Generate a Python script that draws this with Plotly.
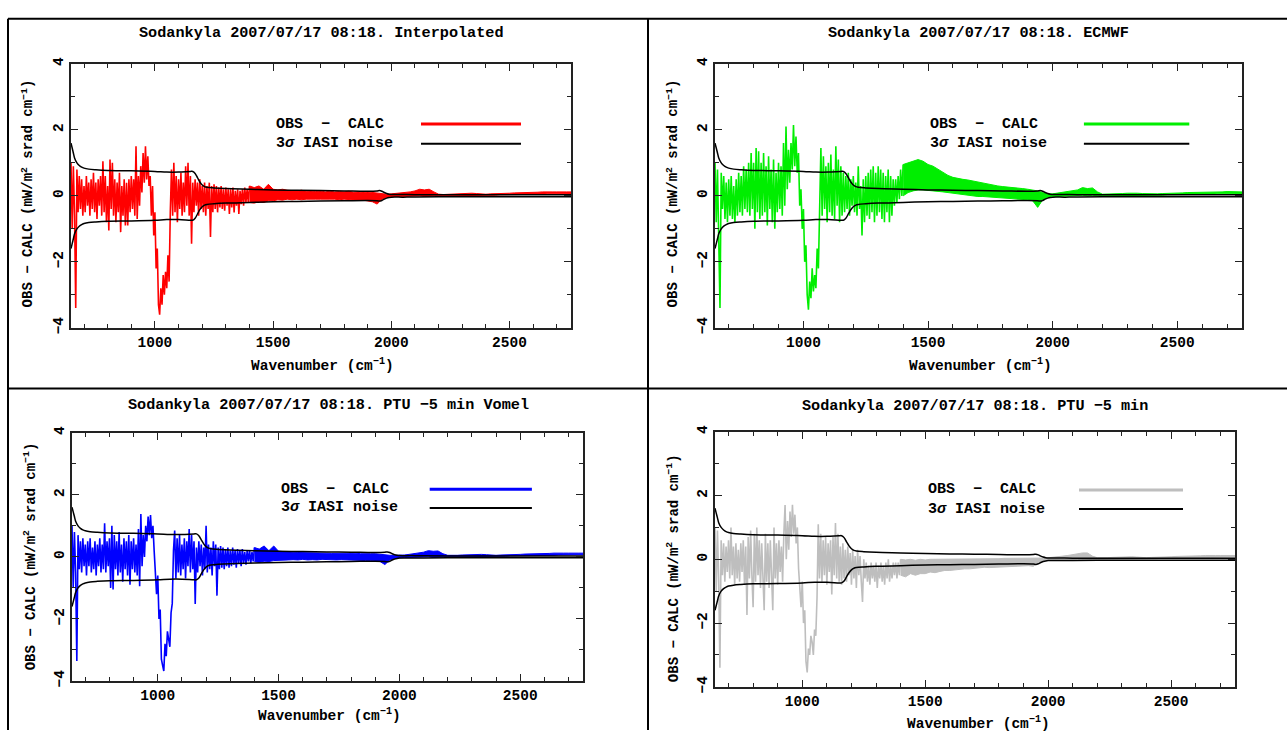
import plotly.graph_objects as go

# ---------------- data ----------------
# fine part: individual channel values (alternating peaks / troughs)
WN_FINE = list(range(645, 1400, 5))      # 645 ... 1395  (151 points)
# smooth part: upper / lower edge of the dense residual band
WN_BAND = list(range(1400, 2761, 20))    # 1400 ... 2760 (69 points)

INTERP_FINE = [
    1.0, -1.0, 0.9, -0.6, -3.4, 0.8, -0.5, 0.6, -0.4, 0.5,
    -0.6, 0.3, -0.5, 0.6, -0.3, 0.4, -0.6, 0.5, -0.4, 0.7,
    -0.5, 0.4, -0.7, 0.5, -0.3, 0.6, -0.6, 1.05, -0.5, 0.6,
    -0.8, 0.3, -1.05, 1.1, -0.4, 1.0, -0.6, 0.5, -0.8, 0.4,
    -0.5, 0.7, -1.1, 0.3, -0.6, 0.5, -0.9, 0.4, -0.9, 0.5,
    -0.5, 0.6, -0.4, 0.5, -0.6, 1.5, -0.7, 0.6, -0.3, 0.9,
    0.1, 1.3, 0.4, 1.5, 0.5, 1.2, 0.3, 0.6, -0.6, 0.3,
    -1.2, -0.5, -2.2, -1.6, -3.3, -3.6, -2.8, -3.3, -2.4, -3.0,
    -2.3, -2.8, -1.8, -2.6, -0.5, 0.8, -0.6, 1.0, -0.5, 0.6,
    -0.8, 0.5, -0.4, 0.7, -0.6, 0.4, -0.5, 0.9, -0.3, 1.0,
    -0.6, 0.6, -1.45, 0.4, -0.5, 0.5, -0.3, 0.4, -0.6, 0.5,
    -0.4, 0.3, -0.5, 0.4, -0.6, 0.3, -0.4, 0.4, -1.25, 0.3,
    -0.5, 0.35, -0.4, 0.3, -0.5, 0.25, -0.35, 0.3, -0.4, 0.2,
    -0.45, 0.25, -0.3, 0.2, -0.55, 0.2, -0.35, 0.25, -0.5, 0.15,
    -0.3, 0.2, -0.55, 0.15, -0.25, 0.2, -0.3, 0.25, -0.2, 0.2,
    -0.2,
]
INTERP_BAND_HI = [
    0.3, 0.25, 0.3, 0.2, 0.35, 0.2, 0.18, 0.2, 0.17, 0.15,
    0.15, 0.17, 0.14, 0.15, 0.13, 0.15, 0.12, 0.14, 0.12, 0.13,
    0.12, 0.14, 0.11, 0.12, 0.1, 0.12, 0.1, 0.08, 0.06, 0.05,
    0.06, 0.07, 0.08, 0.1, 0.12, 0.15, 0.2, 0.18, 0.2, 0.12,
    0.05, 0.04, 0.05, 0.06, 0.07, 0.08, 0.09, 0.08, 0.07, 0.05,
    0.05, 0.06, 0.06, 0.07, 0.08, 0.08, 0.09, 0.09, 0.1, 0.1,
    0.11, 0.11, 0.12, 0.11, 0.12, 0.12, 0.13, 0.12, 0.12,
]
INTERP_BAND_LO = [
    -0.2, -0.22, -0.18, -0.2, -0.15, -0.15, -0.12, -0.13, -0.1, -0.12,
    -0.1, -0.12, -0.1, -0.11, -0.1, -0.1, -0.09, -0.1, -0.1, -0.12,
    -0.1, -0.12, -0.12, -0.14, -0.13, -0.16, -0.18, -0.25, -0.1, -0.05,
    -0.03, -0.02, -0.02, -0.01, -0.01, 0.0, 0.0, -0.02, 0.0, 0.0,
    0.0, 0.0, 0.01, 0.01, 0.01, 0.02, 0.02, 0.02, 0.02, 0.02,
    0.02, 0.02, 0.02, 0.03, 0.03, 0.03, 0.03, 0.04, 0.04, 0.04,
    0.05, 0.05, 0.05, 0.06, 0.06, 0.06, 0.07, 0.07, 0.07,
]

ECMWF_FINE = [
    1.0, -0.8, 0.8, -1.0, -3.4, 0.7, -0.4, 0.6, -0.7, 0.4,
    -0.8, 0.5, -0.6, 0.6, -0.7, 0.3, -0.8, 0.5, -0.6, 0.7,
    -0.5, 0.6, -0.6, 0.9, -0.4, 0.8, -0.5, 1.0, -0.6, 1.3,
    -0.4, 1.0, -1.0, 1.45, -0.5, 1.35, -0.7, 1.0, -0.6, 1.3,
    -0.5, 0.9, -0.9, 1.2, -0.4, 0.8, -0.8, 1.1, -1.0, 0.7,
    -0.5, 1.0, -0.4, 0.9, -0.6, 1.6, -0.3, 2.1, 0.2, 1.4,
    0.4, 1.6, 0.8, 2.15, 0.9, 1.8, 0.7, 1.3, -0.3, 0.2,
    -1.0, -0.4, -2.0, -1.5, -3.0, -3.45, -2.6, -3.1, -2.2, -2.9,
    -2.4, -2.8, -1.6, -2.2, 0.2, 1.45, -0.6, 1.2, -0.4, 0.9,
    -0.8, 1.0, -0.5, 1.25, -0.6, 0.8, -0.7, 1.5, -0.3, 1.1,
    -0.8, 0.9, -0.6, 0.7, -0.5, 0.6, -0.4, 0.7, -0.6, 0.5,
    -0.3, 0.6, -0.5, 0.4, -0.6, 0.9, -0.4, 0.3, -1.2, 0.5,
    -0.8, 0.6, -0.6, 0.7, -0.7, 0.8, -0.5, 0.9, -0.8, 0.7,
    -0.6, 0.9, -0.5, 0.8, -0.7, 0.7, -0.8, 0.6, -0.5, 0.8,
    -0.8, 0.6, -0.6, 0.5, -0.3, 0.5, -0.2, 0.6, -0.1, 0.8,
    0.0,
]
ECMWF_BAND_HI = [
    0.95, 1.0, 1.05, 1.1, 1.05, 0.95, 0.9, 0.8, 0.7, 0.62,
    0.56, 0.52, 0.5, 0.48, 0.45, 0.4, 0.38, 0.35, 0.33, 0.3,
    0.28, 0.27, 0.25, 0.24, 0.22, 0.2, 0.18, 0.15, 0.1, 0.06,
    0.06, 0.08, 0.1, 0.12, 0.15, 0.18, 0.25, 0.22, 0.24, 0.12,
    0.05, 0.05, 0.06, 0.06, 0.07, 0.08, 0.09, 0.08, 0.07, 0.06,
    0.06, 0.06, 0.07, 0.07, 0.08, 0.08, 0.09, 0.1, 0.1, 0.1,
    0.11, 0.11, 0.12, 0.12, 0.12, 0.13, 0.13, 0.13, 0.12,
]
ECMWF_BAND_LO = [
    0.0, 0.1, 0.15, 0.18, 0.18, 0.17, 0.16, 0.15, 0.12, 0.1,
    0.08, 0.05, 0.03, 0.0, 0.0, -0.02, -0.02, -0.03, -0.04, -0.05,
    -0.05, -0.06, -0.08, -0.1, -0.1, -0.12, -0.15, -0.35, -0.12, -0.05,
    -0.03, -0.02, -0.01, 0.0, 0.0, 0.01, 0.02, 0.0, 0.02, 0.0,
    0.0, 0.0, 0.01, 0.01, 0.01, 0.02, 0.02, 0.02, 0.02, 0.02,
    0.02, 0.02, 0.02, 0.03, 0.03, 0.03, 0.03, 0.04, 0.04, 0.04,
    0.05, 0.05, 0.05, 0.06, 0.06, 0.06, 0.07, 0.07, 0.07,
]

VOMEL_FINE = [
    1.0, -1.0, 0.8, -0.5, -3.36, 0.7, -0.4, 0.5, -0.5, 0.6,
    -0.3, 0.4, -0.6, 0.5, -0.3, 0.6, -0.5, 0.3, -0.4, 0.5,
    -0.6, 0.4, -0.3, 0.6, -0.5, 0.4, -0.4, 1.08, -0.5, 0.5,
    -0.3, 0.6, -1.0, 1.0, -1.05, 0.7, -0.4, 0.5, -0.6, 0.8,
    -0.5, 0.4, -0.8, 0.6, -0.4, 0.5, -0.6, 0.7, -0.9, 0.5,
    -0.4, 0.6, -0.5, 0.4, -0.6, 0.9, -0.95, 1.38, -0.3, 0.7,
    0.0, 1.0, 0.5, 1.3, 0.7, 1.35, 0.6, 1.0, 0.2, -0.5,
    -1.2, -0.6, -2.0, -1.7, -3.3, -3.5, -3.68, -2.8, -3.2, -2.4,
    -2.6, -2.9, -1.8, -1.5, 0.2, 0.85, -0.7, 0.6, -0.5, 0.7,
    -0.6, 0.4, -0.4, 0.6, -0.7, 0.5, -0.3, 0.9, -0.5, 0.7,
    -0.4, 0.5, -1.52, 0.3, -0.5, 0.5, -0.3, 0.4, -0.6, 0.3,
    -0.4, 1.0, -0.5, 0.4, -0.4, 0.3, -0.6, 0.5, -0.3, 0.4,
    -1.25, 0.3, -0.4, 0.35, -0.35, 0.3, -0.4, 0.25, -0.3, 0.3,
    -0.35, 0.2, -0.3, 0.3, -0.25, 0.2, -0.35, 0.25, -0.2, 0.2,
    -0.3, 0.25, -0.2, 0.15, -0.25, 0.2, -0.15, 0.2, -0.2, 0.15,
    -0.15,
]
VOMEL_BAND_HI = [
    0.3, 0.25, 0.35, 0.2, 0.35, 0.18, 0.17, 0.15, 0.15, 0.14,
    0.14, 0.13, 0.13, 0.12, 0.12, 0.12, 0.11, 0.12, 0.11, 0.12,
    0.11, 0.12, 0.1, 0.11, 0.1, 0.1, 0.08, 0.06, 0.05, 0.05,
    0.05, 0.06, 0.08, 0.1, 0.12, 0.15, 0.2, 0.18, 0.19, 0.1,
    0.05, 0.04, 0.05, 0.06, 0.07, 0.08, 0.09, 0.08, 0.07, 0.05,
    0.05, 0.06, 0.06, 0.07, 0.08, 0.08, 0.09, 0.09, 0.1, 0.1,
    0.11, 0.11, 0.12, 0.11, 0.12, 0.12, 0.13, 0.12, 0.12,
]
VOMEL_BAND_LO = [
    -0.15, -0.18, -0.14, -0.15, -0.12, -0.12, -0.1, -0.1, -0.09, -0.1,
    -0.08, -0.1, -0.09, -0.1, -0.08, -0.09, -0.08, -0.1, -0.09, -0.1,
    -0.1, -0.1, -0.11, -0.12, -0.12, -0.13, -0.15, -0.25, -0.1, -0.05,
    -0.03, -0.02, -0.02, -0.01, -0.01, 0.0, 0.0, -0.02, 0.0, 0.0,
    0.0, 0.0, 0.01, 0.01, 0.01, 0.02, 0.02, 0.02, 0.02, 0.02,
    0.02, 0.02, 0.02, 0.03, 0.03, 0.03, 0.03, 0.04, 0.04, 0.04,
    0.05, 0.05, 0.05, 0.06, 0.06, 0.06, 0.07, 0.07, 0.07,
]

PTU5_FINE = [
    1.0, -1.0, 0.9, -0.6, -3.4, 0.6, -0.5, 0.5, -0.7, 0.4,
    -0.4, 0.6, -0.6, 1.0, -0.5, 0.4, -0.8, 0.5, -0.6, 0.3,
    -0.7, 0.5, -0.4, 0.6, -0.8, 0.4, -1.75, 0.7, -0.6, 0.9,
    -0.5, -1.5, 0.8, -0.7, 1.0, -0.5, 0.6, -0.9, 0.5, -0.6,
    -1.6, 0.8, -0.7, 0.5, -0.9, 0.6, -0.5, -1.6, 1.0, -0.6,
    0.5, -0.8, 0.6, -0.4, 0.4, -0.7, 0.8, 1.7, 0.0, 1.2,
    0.3, 1.5, 0.7, 1.71, 0.8, 1.4, 0.5, 1.0, -0.3, -0.8,
    -1.5, -0.7, -2.0, -1.6, -3.2, -3.55, -2.8, -3.0, -2.4, -2.6,
    -3.0, -2.2, -2.4, -1.2, 1.1, -0.6, 0.8, -0.7, 0.6, -0.5,
    0.7, -0.8, 0.5, -0.4, 0.6, -1.1, 0.7, -0.5, 1.14, -0.6,
    0.8, -0.7, 0.4, -0.8, 0.5, -0.6, 0.3, -0.7, 0.4, -0.5,
    0.2, -0.8, 0.3, -0.6, 0.1, -0.9, 0.3, -0.5, 0.1, -0.7,
    -1.34, 0.0, -0.6, -0.1, -0.7, -0.2, -0.8, -0.1, -0.6, -0.2,
    -0.7, -0.1, -0.9, -0.2, -0.6, -0.1, -0.7, -0.2, -0.8, -0.1,
    -0.6, 0.0, -0.7, -0.2, -0.6, -0.1, -0.5, -0.1, -0.6, -0.1,
    -0.5,
]
PTU5_BAND_HI = [
    0.0, -0.02, 0.0, -0.03, 0.0, -0.02, 0.0, 0.0, 0.02, 0.0,
    0.0, 0.02, 0.0, 0.02, 0.0, 0.02, 0.02, 0.0, 0.02, 0.02,
    0.02, 0.03, 0.03, 0.02, 0.03, 0.02, 0.03, 0.02, 0.03, 0.04,
    0.05, 0.06, 0.08, 0.1, 0.12, 0.15, 0.18, 0.2, 0.2, 0.1,
    0.05, 0.04, 0.05, 0.06, 0.07, 0.08, 0.09, 0.08, 0.07, 0.05,
    0.05, 0.06, 0.06, 0.07, 0.08, 0.08, 0.09, 0.09, 0.1, 0.1,
    0.11, 0.11, 0.12, 0.11, 0.12, 0.12, 0.13, 0.12, 0.12,
]
PTU5_BAND_LO = [
    -0.5, -0.55, -0.45, -0.5, -0.45, -0.45, -0.4, -0.42, -0.38, -0.35,
    -0.35, -0.33, -0.32, -0.3, -0.3, -0.28, -0.28, -0.25, -0.26, -0.25,
    -0.25, -0.24, -0.22, -0.22, -0.2, -0.2, -0.2, -0.22, -0.1, -0.05,
    -0.03, -0.02, -0.02, -0.01, -0.01, 0.0, 0.0, -0.02, 0.0, 0.0,
    0.0, 0.0, 0.01, 0.01, 0.01, 0.02, 0.02, 0.02, 0.02, 0.02,
    0.02, 0.02, 0.02, 0.03, 0.03, 0.03, 0.03, 0.04, 0.04, 0.04,
    0.05, 0.05, 0.05, 0.06, 0.06, 0.06, 0.07, 0.07, 0.07,
]

NOISE_WN = [645, 650, 655, 660, 670, 680, 690, 700, 720, 750, 800, 900,
            1000, 1050, 1100, 1150, 1160, 1170, 1180, 1190, 1200, 1210,
            1220, 1250, 1300, 1400, 1500, 1600, 1700, 1800, 1900, 1940,
            1950, 1960, 1970, 1980, 1990, 2000, 2050, 2100, 2200, 2400,
            2600, 2760]
NOISE_3SIGMA = [1.6, 1.45, 1.3, 1.15, 1.0, 0.92, 0.87, 0.84, 0.81, 0.79,
                0.77, 0.76, 0.74, 0.72, 0.72, 0.74, 0.74, 0.68, 0.55, 0.42,
                0.33, 0.28, 0.26, 0.24, 0.22, 0.2, 0.18, 0.17, 0.16, 0.15,
                0.14, 0.15, 0.16, 0.14, 0.1, 0.07, 0.05, 0.04, 0.04, 0.035,
                0.03, 0.03, 0.03, 0.03]

TITLES = [
    "Sodankyla 2007/07/17 08:18. Interpolated",
    "Sodankyla 2007/07/17 08:18. ECMWF",
    "Sodankyla 2007/07/17 08:18. PTU \u22125 min Vomel",
    "Sodankyla 2007/07/17 08:18. PTU \u22125 min",
]
FINE = [INTERP_FINE, ECMWF_FINE, VOMEL_FINE, PTU5_FINE]
BAND_HI = [INTERP_BAND_HI, ECMWF_BAND_HI, VOMEL_BAND_HI, PTU5_BAND_HI]
BAND_LO = [INTERP_BAND_LO, ECMWF_BAND_LO, VOMEL_BAND_LO, PTU5_BAND_LO]
COLORS = ["#ff0000", "#00ee00", "#0000ff", "#bebebe"]

for k in range(4):
    assert len(FINE[k]) == len(WN_FINE)
    assert len(BAND_HI[k]) == len(WN_BAND) and len(BAND_LO[k]) == len(WN_BAND)

# ---------------- layout geometry (pixels of a 1287x737 canvas) ----------------
W, H = 1287, 737
BOXES = [(71, 571, 58, 327), (715, 1242, 58, 327),
         (72, 583, 434, 687), (715, 1235, 433, 693)]
TITLE_POS = [(321, 27), (978, 27), (328, 406), (975, 407)]
XTITLE_POS = [(323, 365), (980, 365), (329, 722), (978, 730)]
YTITLE_POS = [(28, 190), (673, 190), (30, 560), (673, 572)]

FONT = "Liberation Mono"
TXT = "#000000"
AX = "#222222"


def tfont(size):
    return dict(family=FONT, size=size, color=TXT, weight="bold")


fig = go.Figure()
layout = dict(width=W, height=H, autosize=False,
              margin=dict(l=0, r=0, t=0, b=0),
              paper_bgcolor="white", plot_bgcolor="white",
              showlegend=False, font=tfont(14))
annotations = []
shapes = []


def px(x):
    return x / W


def py(y):
    return 1 - y / H


for i in range(4):
    n = i + 1
    xa = "x" if n == 1 else f"x{n}"
    ya = "y" if n == 1 else f"y{n}"
    l, r, t, b = BOXES[i]
    col = COLORS[i]
    # dense residual band (upper edge, then lower edge filled to it)
    fig.add_trace(go.Scatter(x=WN_BAND, y=BAND_HI[i], mode="lines",
                             line=dict(color=col, width=1),
                             xaxis=xa, yaxis=ya, hoverinfo="skip"))
    fig.add_trace(go.Scatter(x=WN_BAND, y=BAND_LO[i], mode="lines",
                             line=dict(color=col, width=1), fill="tonexty",
                             fillcolor=col, xaxis=xa, yaxis=ya, hoverinfo="skip"))
    # individual channels in the noisy part
    fig.add_trace(go.Scatter(x=WN_FINE + WN_BAND[:1], y=FINE[i] + BAND_HI[i][:1],
                             mode="lines", line=dict(color=col, width=1.6),
                             xaxis=xa, yaxis=ya, hoverinfo="skip"))
    # 3 sigma noise
    fig.add_trace(go.Scatter(x=NOISE_WN, y=NOISE_3SIGMA, mode="lines",
                             line=dict(color="black", width=1.5, shape="spline"),
                             xaxis=xa, yaxis=ya, hoverinfo="skip"))
    fig.add_trace(go.Scatter(x=NOISE_WN, y=[-v for v in NOISE_3SIGMA], mode="lines",
                             line=dict(color="black", width=1.5, shape="spline"),
                             xaxis=xa, yaxis=ya, hoverinfo="skip"))
    common = dict(showline=True, linecolor=AX, linewidth=1.5,
                  mirror="allticks", ticks="inside", ticklen=7, tickwidth=1.2,
                  tickcolor=AX, showgrid=False, zeroline=False,
                  tickfont=tfont(14.5))
    layout["xaxis" if n == 1 else f"xaxis{n}"] = dict(
        domain=[px(l), px(r)], range=[645, 2760], anchor=ya,
        tickvals=[1000, 1500, 2000, 2500],
        minor=dict(tickvals=[700, 800, 900, 1100, 1200, 1300, 1400, 1600, 1700,
                             1800, 1900, 2100, 2200, 2300, 2400, 2600, 2700],
                   ticks="inside", ticklen=4, tickcolor=AX),
        **common)
    layout["yaxis" if n == 1 else f"yaxis{n}"] = dict(
        domain=[py(b), py(t)], range=[-4, 4], anchor=xa,
        tickvals=[-4, -2, 0, 2, 4], tickangle=-90,
        minor=dict(tickvals=[-3, -1, 1, 3], ticks="inside", ticklen=4,
                   tickcolor=AX),
        **common)
    tx, ty = TITLE_POS[i]
    annotations.append(dict(text=TITLES[i], x=px(tx), y=py(ty), xref="paper",
                            yref="paper", showarrow=False, xanchor="center",
                            yanchor="middle", font=tfont(15.2)))
    tx, ty = XTITLE_POS[i]
    annotations.append(dict(text="Wavenumber (cm<sup>\u22121</sup>)", x=px(tx),
                            y=py(ty), xref="paper", yref="paper", showarrow=False,
                            xanchor="center", yanchor="middle", font=tfont(14.5)))
    tx, ty = YTITLE_POS[i]
    annotations.append(dict(text="OBS \u2212 CALC (mW/m<sup>2</sup> srad cm<sup>\u22121</sup>)",
                            x=px(tx), y=py(ty), xref="paper", yref="paper",
                            showarrow=False, textangle=-90, xanchor="center",
                            yanchor="middle", font=tfont(14)))
    # in-plot key
    xd, yd = f"{xa} domain", f"{ya} domain"
    annotations.append(dict(text="OBS  \u2212  CALC", x=0.405, y=0.772, xref=xd,
                            yref=yd, showarrow=False, xanchor="left",
                            yanchor="middle", font=tfont(15)))
    annotations.append(dict(text="3<i>\u03c3</i> IASI noise", x=0.405, y=0.697,
                            xref=xd, yref=yd, showarrow=False, xanchor="left",
                            yanchor="middle", font=tfont(15)))
    shapes.append(dict(type="line", xref=xd, yref=yd, x0=0.70, x1=0.90,
                       y0=0.772, y1=0.772, line=dict(color=col, width=3)))
    shapes.append(dict(type="line", xref=xd, yref=yd, x0=0.70, x1=0.90,
                       y0=0.697, y1=0.697, line=dict(color="black", width=2)))

# table-like frame
frame = dict(color="black", width=2)
shapes.append(dict(type="line", xref="paper", yref="paper", x0=px(8), x1=1,
                   y0=py(12), y1=py(12), line=frame))
shapes.append(dict(type="line", xref="paper", yref="paper", x0=px(8), x1=px(8),
                   y0=0, y1=py(12), line=frame))
shapes.append(dict(type="line", xref="paper", yref="paper", x0=px(648), x1=px(648),
                   y0=0, y1=py(12), line=frame))
shapes.append(dict(type="line", xref="paper", yref="paper", x0=px(8), x1=1,
                   y0=py(389), y1=py(389), line=frame))

layout["annotations"] = annotations
layout["shapes"] = shapes
fig.update_layout(**layout)

fig.write_html("out.html", config={"displayModeBar": False},
               post_script="document.body.style.margin='0';document.body.style.overflow='hidden';")
